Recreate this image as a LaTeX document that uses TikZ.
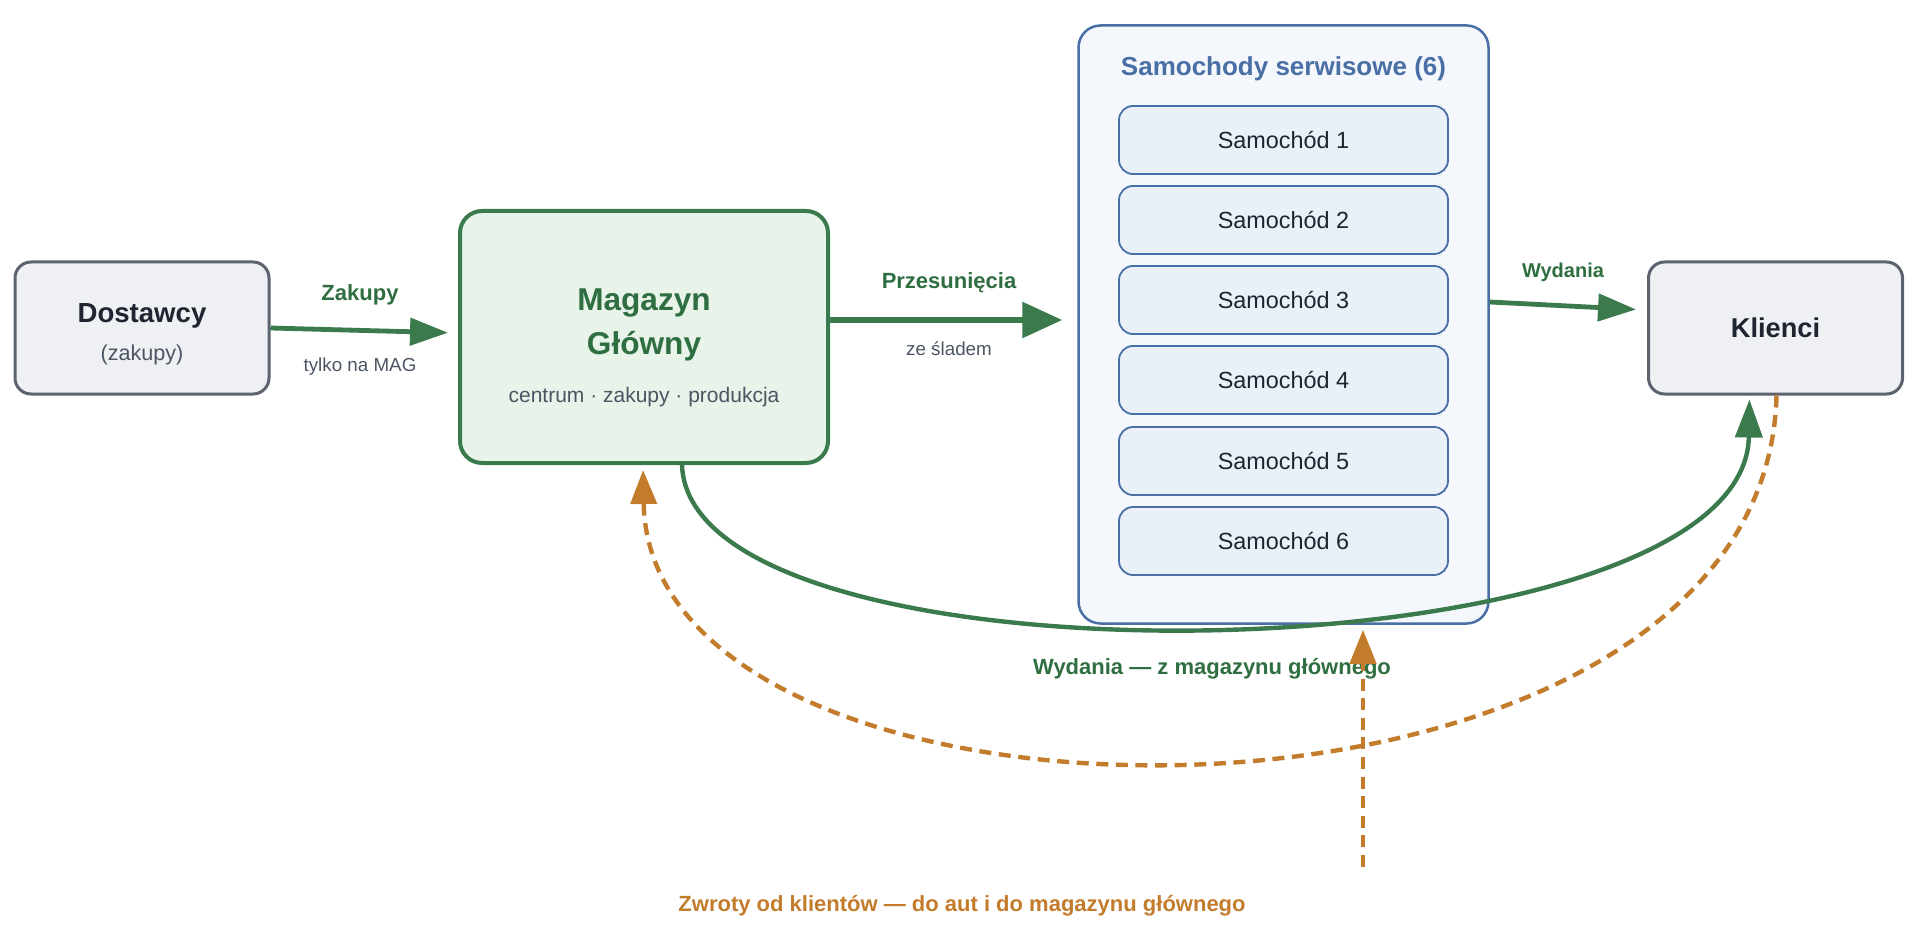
\documentclass[tikz,border=0pt]{standalone}
\usepackage{fontspec}
\setmainfont{Liberation Sans}
\usetikzlibrary{arrows.meta}
\definecolor{grn}{HTML}{3B7A4C}
\definecolor{grntxt}{HTML}{2F6E40}
\definecolor{grnfill}{HTML}{E8F3EA}
\definecolor{blu}{HTML}{4A6FA5}
\definecolor{blufill}{HTML}{F4F7FC}
\definecolor{carfill}{HTML}{EAF0F8}
\definecolor{amber}{HTML}{C27C2C}
\definecolor{gline}{HTML}{5C636E}
\definecolor{gfill}{HTML}{EEF0F4}
\definecolor{ink}{HTML}{1E2430}
\definecolor{muted}{HTML}{4B5563}

\begin{document}
\begin{tikzpicture}[x=0.5pt,y=-0.5pt,
  party/.style={draw=gline, fill=gfill, line width=1.5pt, rounded corners=8pt, minimum width=127pt, minimum height=66pt, inner sep=0pt},
  vanbox/.style={draw=blu, fill=carfill, line width=0.9pt, rounded corners=7pt, minimum width=164.5pt, minimum height=34pt, inner sep=0pt, text=ink, font=\fontsize{11.7}{14}\selectfont},
  flow/.style={draw=grn, line width=2.4pt, -{Triangle[length=19pt,width=13.5pt]}},
  back/.style={draw=amber, line width=2.2pt, dash pattern=on 6pt off 3.8pt, -{Triangle[length=17pt,width=13pt]}},
  lbl/.style={text=grntxt, font=\fontsize{11}{13}\selectfont\bfseries},
  note/.style={text=muted, font=\fontsize{9.4}{11}\selectfont}]
\useasboundingbox (0,0) rectangle (1920,930);

% boxes
\node[party] (dost) at (142,328) {};
\node[text=ink, font=\fontsize{13.8}{16}\selectfont\bfseries] (dostT) at (142,316) {Dostawcy};
\node[text=muted, font=\fontsize{10.8}{13}\selectfont] (dostS) at (142,355) {(zakupy)};

\node[draw=grn, fill=grnfill, line width=2pt, rounded corners=11pt, minimum width=184pt, minimum height=126pt, inner sep=0pt] (mag) at (644,337) {};
\node[text=grntxt, align=center, font=\fontsize{15.8}{22}\selectfont\bfseries] (magT) at (644,325) {Magazyn\\Główny};
\node[text=muted, font=\fontsize{10.5}{13}\selectfont] (magS) at (644,397) {centrum · zakupy · produkcja};

\node[draw=blu, fill=blufill, line width=1.25pt, rounded corners=11pt, minimum width=205pt, minimum height=299pt, inner sep=0pt] (vans) at (1283.5,324.5) {};
\node[text=blu, font=\fontsize{13}{15}\selectfont\bfseries] (vansT) at (1283.5,69) {Samochody serwisowe (6)};
\node[vanbox] (van1) at (1283.5,140) {Samochód 1};
\node[vanbox] (van2) at (1283.5,220) {Samochód 2};
\node[vanbox] (van3) at (1283.5,300) {Samochód 3};
\node[vanbox] (van4) at (1283.5,380) {Samochód 4};
\node[vanbox] (van5) at (1283.5,461) {Samochód 5};
\node[vanbox] (van6) at (1283.5,541) {Samochód 6};

\node[party, text=ink, font=\fontsize{13.6}{16}\selectfont\bfseries] (kli) at (1775.5,328) {Klienci};

% purchases
\draw[flow, shorten >=5pt] (dost.east) -- ([yshift=2pt]mag.west);
\node[lbl] (zakL) at (360,295) {Zakupy};
\node[note] (zakN) at (360,367) {tylko na MAG};

% transfers
\coordinate (przY) at (0,320);
\draw[flow, line width=3pt, -{Triangle[length=20pt,width=17.5pt]}, shorten >=7.5pt] (mag.east |- przY) -- (vans.west |- przY);
\node[lbl] (przL) at (949,283) {Przesunięcia};
\node[note] (przN) at (949,349) {ze śladem};

% issues from vans
\draw[flow, shorten >=5.5pt] ([yshift=11.25pt]vans.east) -- ([yshift=9pt]kli.west);
\node[lbl, font=\fontsize{10}{12}\selectfont\bfseries] (wydL) at (1563,272) {Wydania};

% issues from main warehouse
\draw[flow, line width=2.2pt, shorten >=2pt] ([xshift=19pt]mag.south) .. controls (690,700) and (1745,680) .. ([xshift=-13pt]kli.south);
\node[lbl] (wydM) at (1212,669) {Wydania — z magazynu głównego};

% returns
\draw[back, shorten >=2.5pt] ([xshift=0.5pt]kli.south) .. controls (1765,869) and (650,869) .. ([xshift=-0.5pt]mag.south);
\coordinate (retBase) at (1363,867);
\draw[back, shorten >=2.5pt] (retBase) -- (vans.south -| retBase);
\node[text=amber, font=\fontsize{11}{13}\selectfont\bfseries] (retL) at (962,906) {Zwroty od klientów — do aut i do magazynu głównego};
\end{tikzpicture}
\end{document}
